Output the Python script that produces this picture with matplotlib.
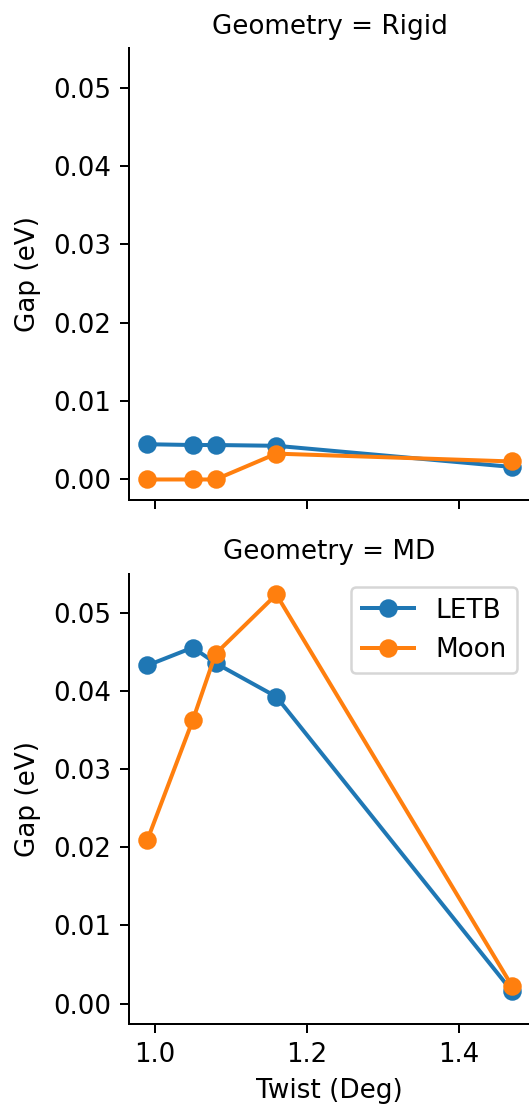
import matplotlib
matplotlib.use("Agg")
import matplotlib.pyplot as plt

# twist angles (degrees)
twist = [0.99, 1.05, 1.08, 1.16, 1.47]

# band gap (eV) per geometry and model
rigid_letb = [0.0045, 0.0044, 0.0044, 0.0043, 0.0016]
rigid_moon = [0.0, 0.0, 0.0, 0.0033, 0.0023]
md_letb = [0.0433, 0.0456, 0.0436, 0.0393, 0.0016]
md_moon = [0.0209, 0.0363, 0.0448, 0.0524, 0.0023]

geometries = ["Rigid", "MD"]
models = ["LETB", "Moon"]
gaps = {
    "Rigid": [rigid_letb, rigid_moon],
    "MD": [md_letb, md_moon],
}

plt.rcParams.update({
    "font.size": 10.5,
    "xtick.labelsize": 10.4,
    "ytick.labelsize": 10.4,
    "legend.fontsize": 10.5,
    "lines.linewidth": 1.6,
    "lines.markersize": 6.4,
})

W, H = 529, 1108
fig = plt.figure(figsize=(W / 180, H / 180), dpi=180)

# panel boxes in pixels: (left, right, top, bottom)
boxes = [(129, 530, 48.5, 500), (129, 530, 574, 1024)]
axes = []
for i, (l, r, t, b) in enumerate(boxes):
    rect = [l / W, (H - b) / H, (r - l) / W, (b - t) / H]
    if i == 0:
        ax = fig.add_axes(rect)
    else:
        ax = fig.add_axes(rect, sharex=axes[0], sharey=axes[0])
    axes.append(ax)

colors = ["#1f77b4", "#ff7f0e"]
for ax, geom in zip(axes, geometries):
    for model, vals, c in zip(models, gaps[geom], colors):
        ax.plot(twist, vals, marker="o", color=c, label=model)
    ax.set_title(f"Geometry = {geom}", fontsize=10.5)
    ax.set_ylabel("Gap (eV)", fontsize=10.5, labelpad=5)
    ax.spines["top"].set_visible(False)
    ax.spines["right"].set_visible(False)

axes[0].tick_params(labelbottom=False)
axes[1].set_xlabel("Twist (Deg)", fontsize=10.5)
axes[1].legend(loc="upper right")

fig.savefig("out.png", dpi=180)
